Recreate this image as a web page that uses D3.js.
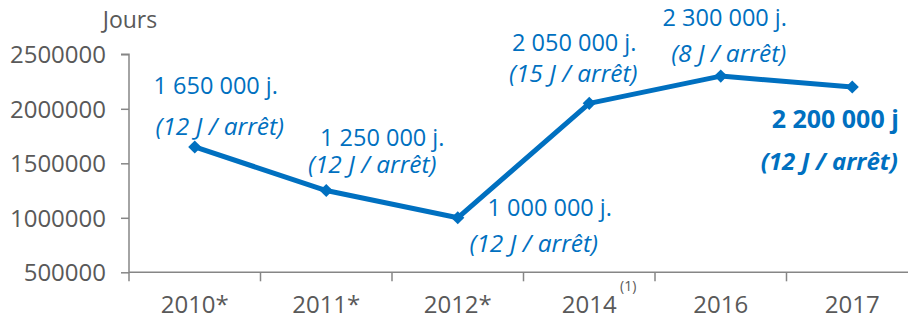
<!DOCTYPE html>
<html>
<head>
<meta charset="utf-8">
<script src="https://cdn.jsdelivr.net/npm/d3@7"></script>
<style>
  html, body { margin: 0; padding: 0; background: #fff; }
  svg { display: block; }
  text { font-family: "Open Sans", "Noto Sans", sans-serif; }
</style>
</head>
<body>
<svg id="chart" width="908" height="322"></svg>
<script>
// Jours d'arrêt par année
const categories = ["2010*", "2011*", "2012*", "2014", "2016", "2017"];
const values = [1650000, 1250000, 1000000, 2050000, 2300000, 2200000];
const valueLabels = ["1 650 000 j.", "1 250 000 j.", "1 000 000 j.", "2 050 000 j.", "2 300 000 j.", "2 200 000 j"];
const rateLabels = ["(12 J / arrêt)", "(12 J / arrêt)", "(12 J / arrêt)", "(15 J / arrêt)", "(8 J / arrêt)", "(12 J / arrêt)"];
const yTicks = [500000, 1000000, 1500000, 2000000, 2500000];
const yTitle = "Jours";
const footnote = "(1)";

// label placement around each point: [dx, dy] for amount line, then for rate line
const labelLayout = [
  [[21, -62], [25, -21]],
  [[56, -54], [46, -27]],
  [[92, -11], [76, 25]],
  [[-15, -61], [-16, -31]],
  [[4, -59], [8, -24]],
  [[-17, 31], [-23, 73]]
];
const boldIndex = 5;

const blue = "#0070C0";
const grey = "#595959";
const axisGrey = "#868686";

const svg = d3.select("#chart");
const plotLeft = 129, plotRight = 918, plotTop = 54.3, plotBottom = 272.3;

const x = d3.scaleBand().domain(categories).range([plotLeft, plotRight]).padding(0);
const y = d3.scaleLinear().domain([500000, 2500000]).range([plotBottom, plotTop]);
const cx = c => x(c) + x.bandwidth() / 2;

// y axis
const yAxis = svg.append("g").attr("transform", `translate(${plotLeft},0)`)
  .call(d3.axisLeft(y).tickValues(yTicks).tickFormat(d3.format("d")).tickSize(8).tickSizeOuter(8));
yAxis.select(".domain").attr("stroke", axisGrey).attr("stroke-width", 1.5)
  .attr("d", `M-8,${plotTop}H0V${plotBottom + 9}`);
yAxis.selectAll(".tick line").attr("stroke", axisGrey).attr("stroke-width", 1.5);
yAxis.selectAll(".tick text").attr("fill", grey).attr("font-size", 24)
  .attr("x", -23).attr("dy", "0.36em")
  .style("font-family", "\"Open Sans\", sans-serif");

// x axis with tick marks between categories
const xg = svg.append("g").attr("transform", `translate(0,${plotBottom})`);
xg.append("line").attr("x1", plotLeft).attr("x2", 908).attr("y1", 0).attr("y2", 0)
  .attr("stroke", axisGrey).attr("stroke-width", 1.5);
xg.selectAll("line.sep").data(categories.slice(1)).enter().append("line")
  .attr("class", "sep")
  .attr("x1", d => x(d)).attr("x2", d => x(d))
  .attr("y1", 0).attr("y2", 9)
  .attr("stroke", axisGrey).attr("stroke-width", 1.5);
xg.selectAll("text.cat").data(categories).enter().append("text")
  .attr("class", "cat")
  .attr("x", d => cx(d)).attr("y", 31)
  .attr("text-anchor", "middle").attr("dominant-baseline", "central")
  .attr("fill", grey).attr("font-size", 24)
  .text(d => d);

// footnote marker next to 2014
svg.append("text")
  .attr("x", cx("2014") + 39).attr("y", 285)
  .attr("text-anchor", "middle").attr("dominant-baseline", "central")
  .attr("fill", grey).attr("font-size", 14)
  .text(footnote);

// y title
svg.append("text")
  .attr("x", 130).attr("y", 19)
  .attr("text-anchor", "middle").attr("dominant-baseline", "central")
  .attr("fill", grey).attr("font-size", 23)
  .text(yTitle);

// line
const pts = categories.map((c, i) => ({ c, v: values[i], i }));
svg.append("path").datum(pts)
  .attr("fill", "none").attr("stroke", blue).attr("stroke-width", 5)
  .attr("stroke-linejoin", "round")
  .attr("d", d3.line().x(d => cx(d.c)).y(d => y(d.v)));

// diamond markers
svg.selectAll("path.mk").data(pts).enter().append("path")
  .attr("class", "mk")
  .attr("d", d3.symbol().type(d3.symbolDiamond2).size(110))
  .attr("transform", d => `translate(${cx(d.c)},${y(d.v)})`)
  .attr("fill", blue);

// data labels
const lab = svg.append("g");
pts.forEach(d => {
  const px = cx(d.c), py = y(d.v);
  const [a, b] = labelLayout[d.i];
  const bold = d.i === boldIndex;
  lab.append("text")
    .attr("x", px + a[0]).attr("y", py + a[1])
    .attr("text-anchor", "middle").attr("dominant-baseline", "central")
    .attr("fill", blue).attr("font-size", bold ? 25 : 23.5)
    .attr("font-weight", bold ? "bold" : "normal")
    .text(valueLabels[d.i]);
  lab.append("text")
    .attr("x", px + b[0]).attr("y", py + b[1])
    .attr("text-anchor", "middle").attr("dominant-baseline", "central")
    .attr("fill", blue).attr("font-size", bold ? 24 : 24.5)
    .attr("font-style", "italic")
    .attr("font-weight", bold ? "bold" : "normal")
    .text(rateLabels[d.i]);
});
</script>
</body>
</html>
